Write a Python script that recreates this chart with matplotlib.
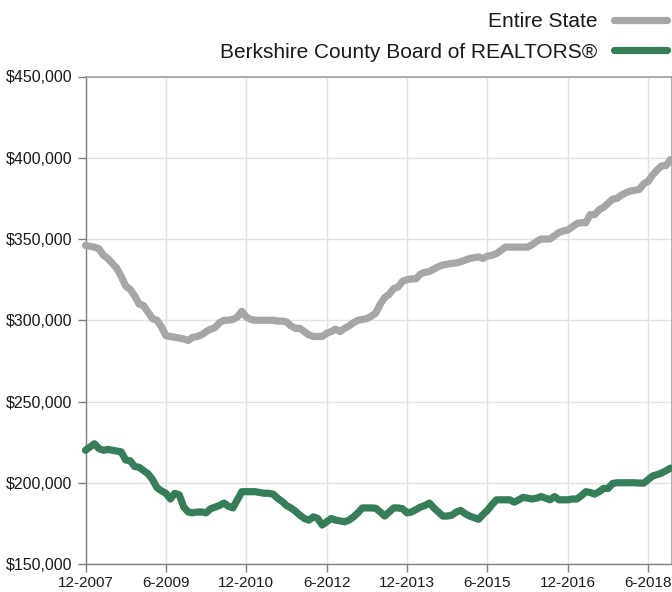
import matplotlib
matplotlib.use("Agg")
import matplotlib.pyplot as plt
import numpy as np

plt.rcParams['font.family'] = ['Liberation Sans', 'DejaVu Sans']

# months since 12-2007 (12-2007 .. 11-2018)
tick_labels = ["12-2007", "6-2009", "12-2010", "6-2012", "12-2013", "6-2015", "12-2016", "6-2018"]
tick_months = [0, 18, 36, 54, 72, 90, 108, 126]

entire_state = [
    346000, 345500, 345000, 344000, 340000, 338000, 335000, 332000, 327000, 321000,
    319000, 315000, 310000, 309000, 305000, 301000, 300000, 296000, 290500, 290000,
    289500, 289000, 288500, 287500, 289500, 290000, 291000, 293000, 294500, 295500,
    298500, 300000, 300000, 300500, 302000, 305500, 302000, 300500, 300000, 300000,
    300000, 300000, 300000, 299500, 299500, 299000, 296500, 295000, 295000, 293000,
    291000, 290000, 290000, 290000, 292000, 293000, 294500, 293000, 295000, 296500,
    298500, 300000, 300500, 301000, 302500, 304500, 310000, 314000, 316000, 319500,
    320500, 324000, 325000, 325500, 325500, 328500, 329500, 330000, 331500, 333000,
    334000, 334500, 335000, 335200, 336000, 337000, 338000, 338500, 339000, 338000,
    339500, 340000, 341000, 343000, 345000, 345000, 345000, 345000, 345000, 345000,
    346500, 348500, 350000, 350000, 350000, 352000, 354000, 355000, 355500, 357500,
    359500, 360000, 360000, 365000, 365000, 368000, 369500, 372000, 374500, 375000,
    377000, 378500, 379500, 380000, 380500, 384000, 385500, 389500, 392500, 395000,
    395200, 399000,
]

berkshire = [
    220000, 222000, 224000, 221000, 220000, 220500, 220000, 219500, 219000, 214000,
    213500, 210000, 209500, 207500, 205500, 202000, 197000, 195000, 193500, 190000,
    193500, 192500, 185000, 182000, 181500, 182000, 182000, 181500, 184000, 185000,
    186000, 187500, 185500, 184500, 189500, 194500, 194500, 194500, 194500, 194000,
    193500, 193500, 193000, 190500, 188500, 186000, 184500, 182500, 180000, 178000,
    177000, 179000, 178000, 174000, 176000, 178000, 177000, 176500, 176000, 177000,
    179000, 181500, 184500, 184500, 184500, 184300, 182000, 179500, 182000, 184500,
    184500, 184000, 181500, 182000, 183500, 185000, 186000, 187500, 184500, 182000,
    179500, 179500, 180000, 182000, 183000, 181000, 179500, 178500, 177500, 180500,
    183000, 186500, 189500, 189500, 189500, 189500, 188000, 189500, 191000, 190500,
    190000, 190500, 191500, 190500, 189500, 191500, 189500, 189500, 189500, 190000,
    190000, 192000, 194500, 194000, 193000, 194500, 196500, 196500, 199500, 200000,
    200000, 200000, 200000, 200000, 199800, 199800, 202000, 204200, 205000, 206000,
    207500, 209000,
]

y_ticks = [150000, 200000, 250000, 300000, 350000, 400000, 450000]
series_names = ["Entire State", "Berkshire County Board of REALTORS®"]

months = np.arange(len(entire_state))

fig = plt.figure(figsize=(6.72, 5.92), dpi=100)
ax = fig.add_axes([85.5 / 672, 1 - 564 / 592, (671.5 - 85.5) / 672, (564 - 76.5) / 592])

gray = "#a6a6a6"
green = "#367e5a"
lw = 5.2
l1, = ax.plot(months, entire_state, color=gray, lw=lw, solid_capstyle='round',
              solid_joinstyle='round', label=series_names[0], clip_on=False, zorder=3)
l2, = ax.plot(months, berkshire, color=green, lw=lw, solid_capstyle='round',
              solid_joinstyle='round', label=series_names[1], clip_on=False, zorder=3)

ax.set_xlim(0, 131.2)
ax.set_ylim(150000, 450000)
ax.set_xticks(tick_months)
ax.set_xticklabels(tick_labels)
ax.set_yticks(y_ticks)
ax.set_yticklabels([f"${v:,}" for v in y_ticks])

ax.grid(True, color="#e2e2e2", lw=1.0, zorder=0)
ax.set_axisbelow(True)
for s in ["left", "bottom"]:
    ax.spines[s].set_color("#808080")
    ax.spines[s].set_linewidth(1.0)
for s in ["top", "right"]:
    ax.spines[s].set_color("#a0a0a0")
    ax.spines[s].set_linewidth(1.2)
ax.tick_params(axis='both', length=5.5, width=1.0, color="#808080",
               labelsize=11.5, labelcolor="#1a1a1a")
ax.tick_params(axis='x', pad=3, labelsize=11)
ax.tick_params(axis='y', pad=4)

leg = fig.legend(handles=[l1, l2], loc='upper right', bbox_to_anchor=(1.0, 1.0 - 7 / 592),
                 frameon=False, markerfirst=False, fontsize=15, handlelength=2.55,
                 handletextpad=0.8, labelspacing=0.55, borderaxespad=0.0,
                 borderpad=0.25)
for t in leg.get_texts():
    t.set_color("#1a1a1a")

fig.savefig("out.png", dpi=100)
